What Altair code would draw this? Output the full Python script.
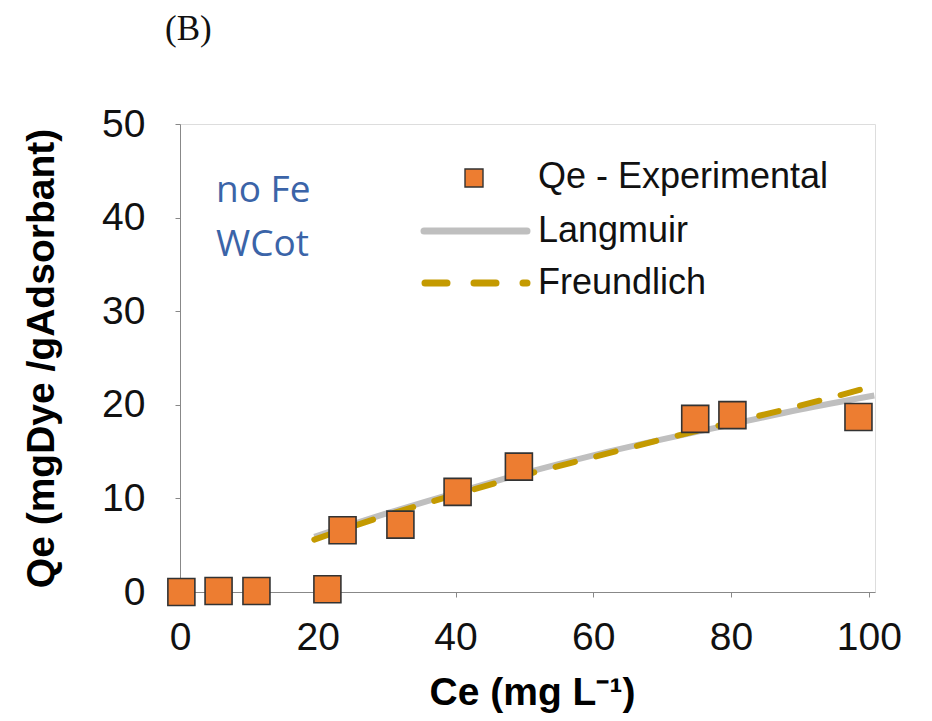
import altair as alt
import pandas as pd

# Experimental points
ce_exp = [0.2, 5.6, 11.1, 21.4, 23.6, 32.0, 40.3, 49.2, 74.8, 80.2, 98.5]
qe_exp = [0.0, 0.1, 0.1, 0.3, 6.6, 7.2, 10.7, 13.4, 18.5, 18.9, 18.7]

# Langmuir fit curve
ce_lang = [19.5, 30, 40, 50, 60, 70, 80, 90, 100.8]
qe_lang = [5.9, 8.4, 10.6, 12.7, 14.6, 16.3, 17.9, 19.5, 21.0]

# Freundlich fit curve
ce_freu = [19.5, 30, 40, 50, 60, 70, 80, 90, 98.7]
qe_freu = [5.6, 8.2, 10.4, 12.5, 14.4, 16.3, 18.1, 19.9, 21.6]

x_ticks = [0, 20, 40, 60, 80, 100]
y_ticks = [0, 10, 20, 30, 40, 50]

exp_df = pd.DataFrame({"Ce": ce_exp, "Qe": qe_exp})
lang_df = pd.DataFrame({"Ce": ce_lang, "Qe": qe_lang})
freu_df = pd.DataFrame({"Ce": ce_freu, "Qe": qe_freu})

FONT = "Liberation Sans"
GRAY = "#BFBFBF"
ORANGE = "#ED7D31"
GOLD = "#C49A00"
BLUE = "#3B64A8"

xs = alt.Scale(domain=[0, 100.9], nice=False, zero=False)
ys = alt.Scale(domain=[0, 50], nice=False)

x_axis = alt.Axis(values=x_ticks, title="Ce (mg L⁻¹)", titleFont=FONT, titleFontSize=39,
                  titleFontWeight="bold", titleColor="#000", titleX=352, titleY=112,
                  titleBaseline="alphabetic", labelFont=FONT, labelFontSize=39,
                  labelColor="#111", labelPadding=21, labelFlush=False, grid=False)
y_axis = alt.Axis(values=y_ticks, title="Qe (mgDye /gAdsorbant)", titleFont=FONT,
                  titleFontSize=39, titleFontWeight="bold", titleColor="#000",
                  titleX=-139, titleY=234, titleAngle=270, titleBaseline="middle",
                  titleAlign="center", labelFont=FONT, labelFontSize=39, labelColor="#111",
                  labelPadding=30, labelFlush=False, grid=False)

lang = alt.Chart(lang_df).mark_line(color=GRAY, strokeWidth=6, interpolate="monotone").encode(
    x=alt.X("Ce:Q", scale=xs, axis=x_axis),
    y=alt.Y("Qe:Q", scale=ys, axis=y_axis),
)
freu = alt.Chart(freu_df).mark_line(color=GOLD, strokeWidth=6, strokeDash=[20, 22],
                                    strokeCap="round", interpolate="monotone").encode(
    x=alt.X("Ce:Q", scale=xs), y=alt.Y("Qe:Q", scale=ys)
)
pts = alt.Chart(exp_df).mark_point(shape="square", filled=True, fill=ORANGE, stroke="#333",
                                   strokeWidth=1.6, size=729, opacity=1).encode(
    x=alt.X("Ce:Q", scale=xs), y=alt.Y("Qe:Q", scale=ys)
)

# Legend (drawn by hand in pixel space)
base = alt.Chart(pd.DataFrame({"a": [0]}))
leg_sq = base.mark_point(shape="square", filled=True, fill=ORANGE, stroke="#333",
                         strokeWidth=1.4, size=324, opacity=1).encode(
    x=alt.value(294), y=alt.value(54))
leg_l = base.mark_rule(color=GRAY, strokeWidth=7, strokeCap="round").encode(
    x=alt.value(244), x2=alt.value(347), y=alt.value(107))
leg_f = base.mark_rule(color=GOLD, strokeWidth=7, strokeCap="round", strokeDash=[22, 27]).encode(
    x=alt.value(245), x2=alt.value(347), y=alt.value(159))


def txt(s, x, y, size=36, color="#111", font=FONT):
    return base.mark_text(align="left", baseline="alphabetic", font=font, fontSize=size,
                          color=color).encode(x=alt.value(x), y=alt.value(y), text=alt.value(s))


texts = [
    txt("Qe - Experimental", 358, 64),
    txt("Langmuir", 358, 118),
    txt("Freundlich", 358, 170),
    txt("no Fe", 36, 78, 37, BLUE, "Open Sans"),
    txt("WCot", 36, 132, 37, BLUE, "Open Sans"),
    txt("(B)", -15, -84, 35, "#111", "Liberation Serif"),
]

chart = alt.layer(lang, freu, pts, leg_sq, leg_l, leg_f, *texts).properties(
    width=695, height=468,
    autosize=alt.AutoSizeParams(type="none"),
    padding={"left": 172, "top": 116, "right": 49, "bottom": 121},
).configure_view(stroke=GRAY, strokeWidth=2.5).configure_axis(
    domainColor=GRAY, domainWidth=2.5, tickColor=GRAY, tickWidth=2.5, tickSize=10
).configure(background="white")

chart.save("out.html", embed_options={"renderer": "svg", "actions": False})
